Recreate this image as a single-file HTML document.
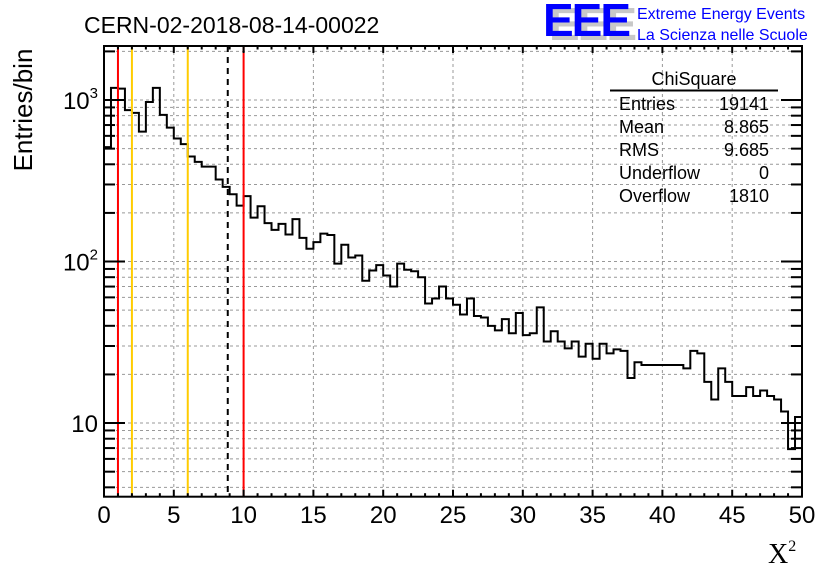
<!DOCTYPE html>
<html><head><meta charset="utf-8"><style>
html,body{margin:0;padding:0;background:#fff;}
svg{display:block;font-family:"Liberation Sans",Arial,sans-serif;}
</style></head><body>
<svg id="c" width="836" height="572" viewBox="0 0 836 572">
<rect width="836" height="572" fill="#fff"/>
<g id="grid"></g>
<g id="hist"></g>
<g id="cuts"></g>
<g id="axes"></g>
<text x="84" y="33" font-size="23">CERN-02-2018-08-14-00022</text>
<g>
<text x="549" y="40" font-size="46" font-weight="bold" fill="#c8c8c8" letter-spacing="-2">EEE</text>
<text x="543" y="36" font-size="46" font-weight="bold" fill="#0000ff" letter-spacing="-2">EEE</text>
<text x="637" y="19" font-size="16" fill="#0000ff">Extreme Energy Events</text>
<text x="637" y="40" font-size="16" fill="#0000ff">La Scienza nelle Scuole</text>
</g>
<g font-size="18">
<text x="694" y="85" text-anchor="middle">ChiSquare</text>
<line x1="610" y1="90.5" x2="778" y2="90.5" stroke="#000" stroke-width="2"/>
<text x="619" y="110">Entries</text><text x="769" y="110" text-anchor="end">19141</text>
<text x="619" y="133">Mean</text><text x="769" y="133" text-anchor="end">8.865</text>
<text x="619" y="156">RMS</text><text x="769" y="156" text-anchor="end">9.685</text>
<text x="619" y="179">Underflow</text><text x="769" y="179" text-anchor="end">0</text>
<text x="619" y="202">Overflow</text><text x="769" y="202" text-anchor="end">1810</text>
</g>
<text transform="translate(32,110) rotate(-90)" text-anchor="middle" font-size="26">Entries/bin</text>
<text x="768" y="563" font-size="28" font-family="'Liberation Serif',serif">X<tspan font-size="16" dy="-12">2</tspan></text>
</svg>
<script>
const binCounts = [511,1189,1177,866,833,637,972,1189,809,675,578,533,447,414,387,387,322,290,261,222,
254,187,220,173,157,171,147,183,140,120,132,149,146,97,127,106,109,76,88,95,
82,70,97,89,87,80,55,59,70,59,54,47,59,46,45,40,37.5,44,36,48,
35,36,52,32,37,32,29,32,25.8,31,25,31,27,28.6,28,19,23.8,22.9,22.9,22.9,
22.9,22.9,22.9,21.8,28,27,18,14,21.8,18,14.7,14.7,16.7,14.7,15.9,14.7,14,11.8,6.9,10.9];
const xMin = 0, xMax = 50, binWidth = 0.5;
const xTickLabels = [0,5,10,15,20,25,30,35,40,45,50];
const yDecades = [10,100,1000];
const cutValues = [1,2,6,8.865,10];
const cutColors = ['#ff0000','#ffcc00','#ffcc00','#000000','#ff0000'];
const cutNames = ['cut-line-1','cut-line-2','cut-line-6','mean-line','cut-line-10'];

const L=104,R=802,T=46,B=496.7;
const yLo=3.5, yHi=2160;
const NS='http://www.w3.org/2000/svg';
function X(v){return L+(v-xMin)/(xMax-xMin)*(R-L);}
function Y(v){return B-(Math.log10(v)-Math.log10(yLo))/(Math.log10(yHi)-Math.log10(yLo))*(B-T);}
function mk(tag,attrs,parent){const e=document.createElementNS(NS,tag);for(const k in attrs)e.setAttribute(k,attrs[k]);parent.appendChild(e);return e;}
const grid=document.getElementById('grid'),hist=document.getElementById('hist'),cuts=document.getElementById('cuts'),axes=document.getElementById('axes');

xTickLabels.forEach(t=>{if(t>xMin&&t<xMax){const g=mk('line',{x1:X(t),x2:X(t),y1:T,y2:B,stroke:'#999','stroke-width':1,'stroke-dasharray':'3,3'},grid);

}});
const yTicks=[];
[1,10,100,1000].forEach(d=>{for(let m=1;m<10;m++){const v=d*m;if(v>yLo&&v<yHi)yTicks.push(v);}});
yTicks.forEach(v=>{const g=mk('line',{x1:L,x2:R,y1:Y(v),y2:Y(v),stroke:'#999','stroke-width':1,'stroke-dasharray':'3,3'},grid);

});

let d='';
binCounts.forEach((c,i)=>{const x0=X(xMin+i*binWidth),x1=X(xMin+(i+1)*binWidth),y=Y(c);
d+=(i===0?'M'+x0+','+y:'L'+x0+','+y)+' L'+x1+','+y+' ';});
const hp=mk('path',{d:d,fill:'none',stroke:'#000','stroke-width':2},hist);



cutValues.forEach((v,i)=>{const a={x1:X(v),x2:X(v),y1:T,y2:B,stroke:cutColors[i],'stroke-width':2};
if(cutColors[i]==='#000000')a['stroke-dasharray']='6,5';
const l=mk('line',a,cuts);

});

const fr=mk('rect',{x:L,y:T,width:R-L,height:B-T,fill:'none',stroke:'#000','stroke-width':2},axes);


for(let v=xMin;v<=xMax;v+=1){const major=v%5===0;const len=major?7:3.5;
mk('line',{x1:X(v),x2:X(v),y1:B,y2:B-len,stroke:'#000','stroke-width':2},axes);
mk('line',{x1:X(v),x2:X(v),y1:T,y2:T+len,stroke:'#000','stroke-width':2},axes);}
xTickLabels.forEach(t=>{const tx=mk('text',{x:X(t),y:523,'text-anchor':'middle','font-size':24},axes);tx.textContent=t;

});
yTicks.forEach(v=>{const major=yDecades.includes(v);const len=major?21:11;
mk('line',{x1:L,x2:L+len,y1:Y(v),y2:Y(v),stroke:'#000','stroke-width':2},axes);
mk('line',{x1:R,x2:R-len,y1:Y(v),y2:Y(v),stroke:'#000','stroke-width':2},axes);});
yDecades.forEach(v=>{const tx=mk('text',{x:98,y:Y(v)+9,'text-anchor':'end','font-size':24},axes);
if(v===10){tx.textContent='10';}else{const e=Math.round(Math.log10(v));tx.textContent='10';const ts=mk('tspan',{'font-size':15,dy:-11},tx);ts.textContent=e;}

});
</script>
</body></html>
